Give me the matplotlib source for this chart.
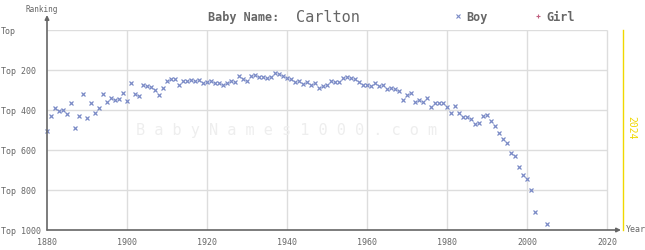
import numpy as np
import matplotlib
matplotlib.use("Agg")
import matplotlib.pyplot as plt

# Carlton, boy ranks (2003/2004 not shown)
years = list(range(1880, 2003)) + [2005]
boy_rank = [505, 432, 392, 407, 402, 422, 367, 492, 432, 322,
            442, 367, 417, 392, 322, 362, 342, 352, 347, 317,
            357, 267, 322, 332, 277, 282, 287, 302, 327, 292,
            257, 247, 247, 277, 257, 257, 252, 257, 252, 267,
            262, 257, 267, 267, 277, 267, 257, 262, 232, 247,
            257, 232, 227, 237, 237, 242, 237, 217, 222, 232,
            242, 247, 262, 257, 272, 262, 277, 267, 292, 282,
            277, 257, 262, 262, 242, 237, 242, 247, 262, 277,
            277, 282, 267, 282, 277, 297, 292, 297, 307, 352,
            327, 317, 362, 352, 362, 342, 387, 367, 367, 367,
            387, 417, 382, 417, 437, 437, 447, 472, 467, 432,
            427, 457, 482, 517, 547, 567, 617, 632, 687, 727,
            747, 802, 912, 972]

x_ticks = [1880, 1900, 1920, 1940, 1960, 1980, 2000, 2020]
y_ticks = [0, 200, 400, 600, 800, 1000]
y_labels = ["Top", "Top 200", "Top 400", "Top 600", "Top 800", "Top 1000"]
current_year = 2024

grey = "#666666"
grid_c = "#dddddd"
boy_c = "#7a8ac6"
girl_c = "#c06080"
mono = "DejaVu Sans Mono"

fig = plt.figure(figsize=(6.45, 2.5), dpi=100)
ax = fig.add_axes([47 / 645, 20 / 250, 584 / 645, 200 / 250])
ax.set_xlim(1880, 2026)
ax.set_ylim(1000, 0)

# grid
ax.vlines(x_ticks[1:], 0, 1000, color=grid_c, lw=1, zorder=0)
ax.hlines(y_ticks[:-1], 1880, 2020, color=grid_c, lw=1, zorder=0)

# watermark
ax.text(1940, 505, " ".join("BabyNames1000.com"), fontsize=11, family=mono,
        color="#eeeeee", ha="center", va="center", zorder=0)

# current year line
ax.axvline(current_year, color="#f0d800", lw=1, clip_on=False)
ax.text(current_year + 2, 490, str(current_year), rotation=270, fontsize=7,
        family=mono, color="#f0d800", ha="center", va="center")

ax.plot(years, boy_rank, linestyle="none", marker="x", ms=2.5, mew=0.9,
        color=boy_c, clip_on=False, zorder=3)

for s in ax.spines.values():
    s.set_visible(False)

# axes with arrows
ax.annotate("", xy=(0, 1.075), xytext=(0, 0), xycoords="axes fraction",
            arrowprops=dict(arrowstyle="-|>", color=grey, lw=1.2,
                            shrinkA=0, shrinkB=0, mutation_scale=6))
ax.annotate("", xy=(2023.5, 1000), xytext=(1880, 1000), xycoords="data",
            arrowprops=dict(arrowstyle="-|>", color=grey, lw=1.2,
                            shrinkA=0, shrinkB=0, mutation_scale=6),
            annotation_clip=False)

ax.set_xticks(x_ticks)
ax.set_xticklabels([str(y) for y in x_ticks], fontsize=6, family=mono, color=grey)
ax.set_yticks(y_ticks)
ax.set_yticklabels(y_labels, fontsize=6, family=mono, color=grey, ha="left")
ax.tick_params(axis="y", length=0, pad=33)
ax.tick_params(axis="x", length=0, pad=6)

fig.text(26 / 645, 1 - 9 / 250, "Ranking", fontsize=5.5, family=mono,
         color=grey, ha="left", va="center")
fig.text(626 / 645, 1 - 230 / 250, "Year", fontsize=6, family=mono,
         color=grey, ha="left", va="center")

# title
fig.text(286 / 645, 1 - 17 / 250, "Baby Name: ", fontsize=8.5, family=mono,
         color=grey, ha="right", va="center", fontweight="bold")
fig.text(296 / 645, 1 - 17 / 250, "Carlton", fontsize=11, family=mono,
         color=grey, ha="left", va="center")

# legend
fig.add_artist(plt.Line2D([458 / 645], [1 - 16 / 250], marker="x", ms=2.5,
                          mew=0.8, color=boy_c, transform=fig.transFigure))
fig.text(466 / 645, 1 - 17 / 250, "Boy", fontsize=8.5, family=mono,
         color=grey, ha="left", va="center", fontweight="bold")
fig.add_artist(plt.Line2D([538 / 645], [1 - 16 / 250], marker="+", ms=3,
                          mew=0.8, color=girl_c, transform=fig.transFigure))
fig.text(546 / 645, 1 - 17 / 250, "Girl", fontsize=8.5, family=mono,
         color=grey, ha="left", va="center", fontweight="bold")

fig.savefig("out.png", dpi=100)
